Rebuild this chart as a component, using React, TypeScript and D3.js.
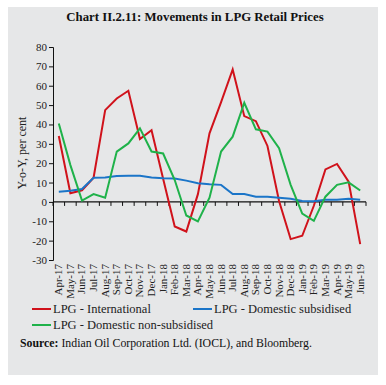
import React, { useEffect, useRef } from 'react';
import * as d3 from 'd3';

const months = [
  'Apr-17', 'May-17', 'Jun-17', 'Jul-17', 'Aug-17', 'Sep-17', 'Oct-17', 'Nov-17', 'Dec-17',
  'Jan-18', 'Feb-18', 'Mar-18', 'Apr-18', 'May-18', 'Jun-18', 'Jul-18', 'Aug-18', 'Sep-18',
  'Oct-18', 'Nov-18', 'Dec-18', 'Jan-19', 'Feb-19', 'Mar-19', 'Apr-19', 'May-19', 'Jun-19',
];

const international = [
  34, 4.5, 6, 12.5, 47.4, 53.4, 57.4, 32.5, 37, 12, -12.7, -15.3,
  4, 35.4, 51.5, 68.4, 44.3, 41.7, 28.9, 0.5, -19.2, -17.5, -2, 16.8, 19.6, 10.5, -21.8,
];

const subsidised = [
  5.3, 5.8, 6.7, 12.5, 12.6, 13.4, 13.5, 13.5, 12.6, 12.2, 12.1, 11, 9.6,
  9.1, 8.8, 4.1, 4.1, 2.7, 2.7, 2.2, 1.6, 0.5, 0.3, 1.1, 1.1, 1.6, 1.1,
];

const nonSubsidised = [
  40.5, 19, 0.7, 4, 2.2, 26, 30.2, 38, 26, 25, 11.3, -7, -10.1,
  2.2, 26, 33.7, 51.2, 37.5, 36.3, 27.7, 8.8, -6, -9.8, 2.7, 8.8, 10.1, 5.9,
];

const yTicks = [-30, -20, -10, 0, 10, 20, 30, 40, 50, 60, 70, 80];

const series = [
  { name: 'LPG - International', values: international, color: '#d0121b' },
  { name: 'LPG - Domestic subsidised', values: subsidised, color: '#1b75c8' },
  { name: 'LPG - Domestic non-subsidised', values: nonSubsidised, color: '#1fb24a' },
];

const font = '"Liberation Serif", "DejaVu Serif", serif';

const App = () => {
  const ref = useRef<SVGSVGElement>(null);

  useEffect(() => {
    const svg = d3.select(ref.current);
    svg.selectAll('*').remove();

    const width = 386;
    const height = 385;

    svg.attr('width', width).attr('height', height);

    // grey panel
    svg.append('rect')
      .attr('x', 8).attr('y', 7)
      .attr('width', 370).attr('height', 368)
      .attr('fill', '#e6e7e8');

    svg.append('text')
      .attr('x', 195).attr('y', 21)
      .attr('text-anchor', 'middle')
      .style('font-family', font)
      .style('font-weight', 'bold')
      .style('font-size', '12.8px')
      .attr('fill', '#111')
      .text('Chart II.2.11: Movements in LPG Retail Prices');

    const x = d3.scaleBand()
      .domain(months)
      .range([53, 366]);

    const y = d3.scaleLinear()
      .domain([-30, 80])
      .range([260, 47]);

    // y axis
    const yAxis = svg.append('g')
      .attr('transform', 'translate(53,0)')
      .call(d3.axisLeft(y).tickValues(yTicks).tickSize(4).tickPadding(2).tickFormat(d => String(d)));
    yAxis.selectAll('text')
      .style('font-family', font)
      .style('font-size', '11px')
      .attr('fill', '#222');
    yAxis.selectAll('line, path').attr('stroke', '#111').attr('stroke-width', 1);

    // x axis at zero
    const g0 = svg.append('g').attr('transform', `translate(0,${y(0)})`);
    g0.append('line')
      .attr('x1', 53).attr('x2', 366)
      .attr('stroke', '#111').attr('stroke-width', 1.2);
    g0.selectAll('line.tick')
      .data([...months.map(m => x(m)), 366])
      .enter().append('line')
      .attr('class', 'tick')
      .attr('x1', d => d).attr('x2', d => d)
      .attr('y1', 0).attr('y2', 4)
      .attr('stroke', '#111');

    // month labels
    svg.append('g')
      .selectAll('text')
      .data(months)
      .enter().append('text')
      .attr('transform', d => `translate(${x(d) + x.bandwidth() / 2 + 3.5},264) rotate(-90)`)
      .attr('text-anchor', 'end')
      .style('font-family', font)
      .style('font-size', '11px')
      .attr('fill', '#222')
      .text(d => d);

    svg.append('text')
      .attr('transform', 'translate(26,153) rotate(-90)')
      .attr('text-anchor', 'middle')
      .style('font-family', font)
      .style('font-size', '12px')
      .attr('fill', '#222')
      .text('Y-o-Y, per cent');

    const line = d3.line<number>()
      .x((d, i) => x(months[i]) + x.bandwidth() / 2)
      .y(d => y(d));

    svg.append('g')
      .selectAll('path')
      .data(series)
      .enter().append('path')
      .attr('d', d => line(d.values))
      .attr('fill', 'none')
      .attr('stroke', d => d.color)
      .attr('stroke-width', 2)
      .attr('stroke-linejoin', 'miter');

    // legend
    const legendPos = [
      { x: 32, y: 309 },
      { x: 193, y: 309 },
      { x: 32, y: 325 },
    ];
    const legend = svg.append('g')
      .selectAll('g')
      .data(series)
      .enter().append('g')
      .attr('transform', (d, i) => `translate(${legendPos[i].x},${legendPos[i].y})`);
    legend.append('line')
      .attr('x1', 0).attr('x2', 19)
      .attr('stroke', d => d.color)
      .attr('stroke-width', 2);
    legend.append('text')
      .attr('x', 21).attr('y', 4)
      .style('font-family', font)
      .style('font-size', '12.5px')
      .attr('fill', '#222')
      .text(d => d.name);

    const src = svg.append('text')
      .attr('x', 20).attr('y', 347)
      .style('font-family', font)
      .style('font-size', '11.8px')
      .attr('fill', '#111');
    src.append('tspan').style('font-weight', 'bold').text('Source:');
    src.append('tspan').text(' Indian Oil Corporation Ltd. (IOCL), and Bloomberg.');
  }, []);

  return (
    <div style={{ position: 'absolute', left: 0, top: 0 }}>
      <svg ref={ref}></svg>
    </div>
  );
};

export default App;
